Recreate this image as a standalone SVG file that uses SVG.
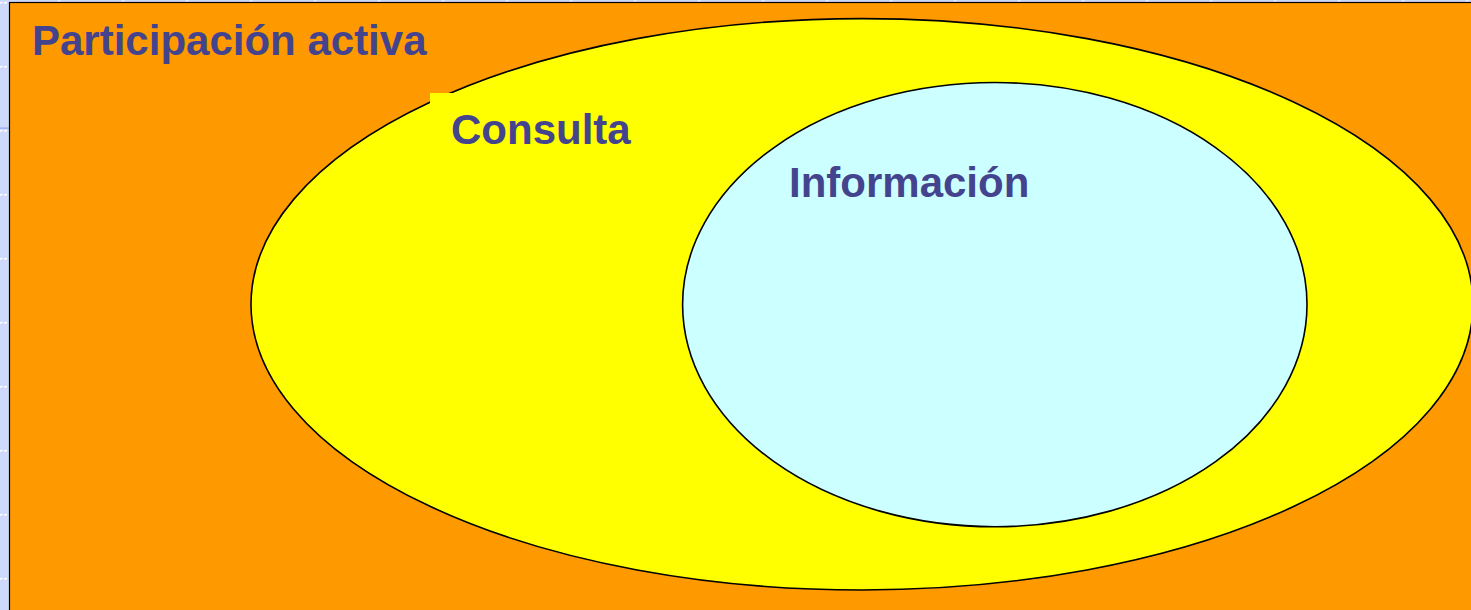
<svg xmlns="http://www.w3.org/2000/svg" width="1471" height="610" viewBox="0 0 1471 610">
  <style>
    .lbl { font-family: "Liberation Sans", Arial, sans-serif; font-weight: bold; font-size: 42px; fill: #44448E; }
    .ell { stroke: #000000; stroke-width: 1.6; }
    .tick { stroke: #FFFFFF; stroke-width: 1.2; }
  </style>
  <defs>
    <pattern id="vticks" x="0" y="2" width="10" height="64" patternUnits="userSpaceOnUse">
      <rect x="0" y="0" width="2.5" height="1.5" fill="#FFFFFF"/>
      <rect x="4" y="0" width="3" height="1.5" fill="#FFFFFF"/>
    </pattern>
    <pattern id="hticks" x="58.5" y="0" width="64" height="3" patternUnits="userSpaceOnUse">
      <rect x="0" y="0" width="1.3" height="2" fill="#FFFFFF"/>
    </pattern>
  </defs>
  <g id="background">
    <rect x="0" y="0" width="1471" height="610" fill="#CEDAFC"/>
    <rect x="0" y="0" width="9" height="610" fill="url(#vticks)"/>
    <rect x="10" y="0" width="1461" height="2" fill="url(#hticks)"/>
    <rect x="0" y="127.5" width="9" height="1.2" fill="#8FA8F0"/>
  </g>
  <g id="participacion">
    <rect x="9.5" y="2.5" width="1470" height="620" fill="#FF9900" stroke="#000000" stroke-width="1.2"/>
    <text class="lbl" x="32" y="55">Participación activa</text>
  </g>
  <g id="consulta">
    <ellipse class="ell" cx="862" cy="304.3" rx="611" ry="285.7" fill="#FFFF00"/>
    <rect x="430" y="93" width="215" height="62" fill="#FFFF00"/>
    <text class="lbl" x="451" y="144">Consulta</text>
  </g>
  <g id="informacion">
    <ellipse class="ell" cx="994.8" cy="304.6" rx="312.2" ry="222.1" fill="#CCFFFF"/>
    <text class="lbl" x="789" y="197">Información</text>
  </g>
  <g id="connectors"/>
</svg>
